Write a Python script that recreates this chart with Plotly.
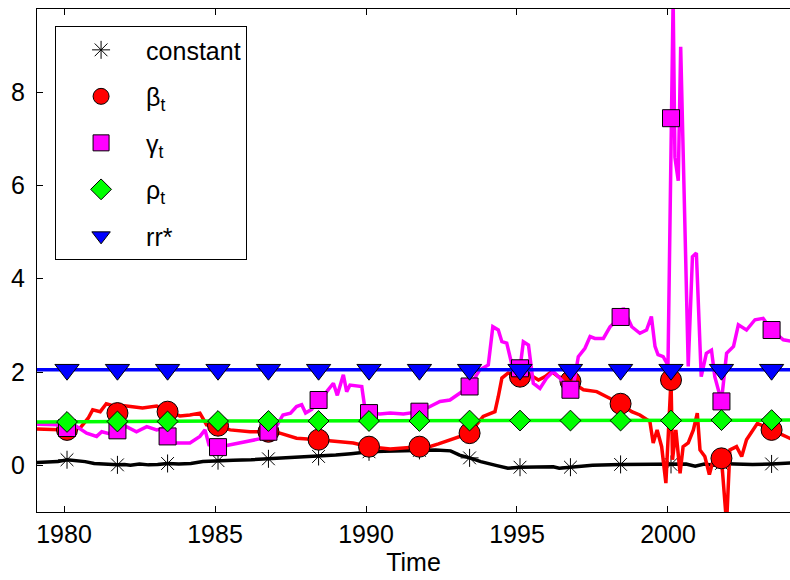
import plotly.graph_objects as go

# ---------------- data ----------------
# marker sample times (every 20 months)
mk_t = [1980.1, 1981.77, 1983.43, 1985.1, 1986.77, 1988.43, 1990.1, 1991.77,
        1993.43, 1995.1, 1996.77, 1998.43, 2000.1, 2001.77, 2003.43]

# constant (black)
const_t = [1979.1, 1979.5, 1979.8, 1980.1, 1980.4, 1980.7, 1981.0, 1981.3, 1981.5, 1981.77,
           1982.0, 1982.2, 1982.5, 1982.8, 1983.1, 1983.43, 1983.8, 1984.2, 1984.6, 1985.1,
           1985.6, 1986.2, 1986.77, 1987.3, 1987.8, 1988.43, 1989.0, 1989.5, 1990.1, 1990.6,
           1991.2, 1991.77, 1992.3, 1992.8, 1993.1, 1993.43, 1993.8, 1994.3, 1994.7, 1995.1,
           1995.6, 1996.2, 1996.4, 1996.77, 1997.1, 1997.5, 1998.43, 1999.3, 2000.1, 2000.6,
           2000.9, 2001.2, 2001.5, 2001.77, 2002.2, 2002.8, 2003.43, 2004.1]
const_v = [0.06, 0.07, 0.08, 0.12, 0.10, 0.08, 0.04, 0.03, 0.01, 0.01,
           0.02, 0.00, 0.03, 0.01, 0.02, 0.04, 0.03, 0.04, 0.08, 0.10,
           0.11, 0.12, 0.14, 0.15, 0.17, 0.19, 0.22, 0.25, 0.29, 0.30,
           0.31, 0.32, 0.33, 0.31, 0.22, 0.16, 0.08, 0.00, -0.06, -0.04,
           -0.03, -0.03, -0.06, -0.04, -0.01, 0.00, 0.02, 0.02, 0.02, 0.03,
           -0.02, 0.03, 0.00, 0.04, 0.03, 0.02, 0.03, 0.05]
const_mk = [0.12, 0.01, 0.04, 0.10, 0.14, 0.19, 0.29, 0.32, 0.16, -0.04, -0.04, 0.02, 0.02, 0.04, 0.03]

# beta_t (red)
beta_t = [1979.1, 1979.5, 1979.8, 1980.1, 1980.53, 1980.8, 1980.95, 1981.2, 1981.4, 1981.6, 1981.77,
          1981.95, 1982.2, 1982.6, 1983.07, 1983.43, 1983.84, 1984.17, 1984.5, 1984.72, 1985.1,
          1985.5, 1986.16, 1986.77, 1987.15, 1987.7, 1988.43, 1989.14, 1989.58, 1990.1, 1990.8,
          1991.77, 1992.1, 1992.4, 1992.8, 1993.1, 1993.43, 1993.88, 1994.27, 1994.38, 1994.5,
          1994.71, 1995.1, 1995.43, 1995.71, 1995.93, 1996.15, 1996.37, 1996.77, 1997.2, 1997.64,
          1997.97, 1998.43, 1998.8, 1999.07, 1999.4, 1999.51, 1999.64, 1999.79, 1999.93, 2000.1,
          2000.15, 2000.26, 2000.4, 2000.5, 2000.67, 2000.84, 2000.97, 2001.06, 2001.22, 2001.37,
          2001.5, 2001.77, 2001.94, 2002.05, 2002.27, 2002.44, 2002.6, 2002.83, 2002.96, 2003.43,
          2004.1]
beta_v = [0.78, 0.77, 0.76, 0.76, 0.80, 1.01, 1.19, 1.15, 1.32, 1.28, 1.12,
          1.28, 1.26, 1.23, 1.27, 1.15, 1.06, 1.08, 1.12, 0.87, 0.85,
          0.76, 0.72, 0.72, 0.69, 0.58, 0.55, 0.51, 0.48, 0.40, 0.35,
          0.40, 0.40, 0.46, 0.55, 0.62, 0.69, 1.05, 1.15, 1.47, 1.87,
          1.98, 1.90, 1.94, 1.83, 1.90, 2.01, 1.90, 1.80, 1.62, 1.58,
          1.47, 1.32, 1.15, 1.08, 0.94, 0.48, 0.76, 0.40, -0.38, 1.83,
          0.12, 0.76, -0.17, 0.40, 0.48, 0.76, 1.12, 0.33, 0.19, -0.20,
          0.12, 0.15, -1.25, 0.33, 0.40, 0.19, 0.55, 0.76, 0.90, 0.76,
          0.56]
beta_mk = [0.76, 1.12, 1.15, 0.85, 0.72, 0.55, 0.40, 0.40, 0.69, 1.90, 1.80, 1.32, 1.83, 0.15, 0.76]

# gamma_t (magenta)
gamma_t = [1979.1, 1979.76, 1980.1, 1980.42, 1980.75, 1981.08, 1981.25, 1981.5, 1981.77, 1982.07,
           1982.4, 1982.74, 1983.07, 1983.3, 1983.43, 1983.6, 1984.17, 1984.5, 1984.67, 1984.8,
           1985.1, 1985.4, 1985.7, 1986.2, 1986.5, 1986.77, 1987.0, 1987.25, 1987.5, 1987.7,
           1987.87, 1988.0, 1988.2, 1988.43, 1988.7, 1988.92, 1989.05, 1989.25, 1989.36, 1989.47,
           1989.86, 1989.97, 1990.1, 1990.46, 1990.8, 1991.24, 1991.77, 1992.12, 1992.45, 1992.78,
           1993.43, 1993.77, 1994.05, 1994.2, 1994.38, 1994.5, 1994.66, 1994.82, 1995.1, 1995.21,
           1995.38, 1995.54, 1995.76, 1995.98, 1996.2, 1996.37, 1996.77, 1996.87, 1997.03, 1997.25,
           1997.42, 1997.58, 1997.86, 1998.08, 1998.43, 1998.52, 1998.8, 1999.07, 1999.29, 1999.45,
           1999.57, 1999.67, 1999.84, 2000.0, 2000.1, 2000.17, 2000.23, 2000.34, 2000.42, 2000.53,
           2000.67, 2000.81, 2000.94, 2001.1, 2001.27, 2001.44, 2001.55, 2001.77, 2001.83, 2001.94,
           2002.17, 2002.33, 2002.6, 2002.88, 2003.15, 2003.43, 2003.82, 2004.1]
gamma_v = [0.88, 0.87, 0.80, 0.83, 0.69, 0.62, 0.72, 0.68, 0.75, 0.83,
           0.72, 0.83, 0.76, 0.80, 0.62, 0.48, 0.48, 0.62, 0.76, 0.44,
           0.39, 0.43, 0.47, 0.52, 0.57, 0.72, 0.80, 1.08, 1.12, 1.26,
           1.30, 1.12, 1.20, 1.40, 1.58, 1.76, 1.50, 1.94, 1.58, 1.72,
           1.69, 1.19, 1.12, 1.10, 1.12, 1.10, 1.15, 1.26, 1.37, 1.40,
           1.69, 2.05, 2.15, 2.97, 2.90, 2.65, 2.62, 2.19, 2.08, 2.65,
           2.58, 1.76, 1.65, 1.87, 2.01, 1.90, 1.62, 1.72, 2.33, 2.51,
           2.76, 2.72, 2.72, 2.97, 3.18, 3.37, 2.97, 2.83, 2.90, 3.19,
           2.55, 2.37, 2.33, 2.15, 7.44, 10.0, 6.60, 6.10, 8.97, 6.00,
           2.12, 4.47, 4.55, 1.90, 2.40, 2.47, 1.90, 1.37, 1.76, 2.40,
           2.55, 3.01, 2.90, 3.12, 3.15, 2.90, 2.69, 2.66]
gamma_mk = [0.80, 0.75, 0.62, 0.39, 0.72, 1.40, 1.12, 1.15, 1.69, 2.08, 1.62, 3.18, 7.44, 1.37, 2.90]

# rho_t (green)
rho_t = [1979.1, 1985.0, 1995.0, 2004.1]
rho_v = [0.93, 0.95, 0.96, 0.97]
rho_mk = [0.93, 0.94, 0.94, 0.95, 0.95, 0.95, 0.95, 0.95, 0.96, 0.96, 0.96, 0.96, 0.96, 0.97, 0.97]

# rr* (blue)
rr_t = [1979.1, 2004.1]
rr_v = [2.05, 2.05]
rr_mk = [2.05] * len(mk_t)

x_ticks = [1980, 1985, 1990, 1995, 2000]
y_ticks = [0, 2, 4, 6, 8]

# ---------------- figure ----------------
FONT = "Liberation Sans, Arial, sans-serif"
fig = go.Figure()

series = [
    ("constant", const_t, const_v, const_mk, "#000000", "asterisk", 15),
    ("β<sub>t</sub>", beta_t, beta_v, beta_mk, "#FF0000", "circle", 21),
    ("γ<sub>t</sub>", gamma_t, gamma_v, gamma_mk, "#FF00FF", "square", 17),
    ("ρ<sub>t</sub>", rho_t, rho_v, rho_mk, "#00FF00", "diamond", 16),
    ("rr*", rr_t, rr_v, rr_mk, "#0000FF", "triangle-down", 21),
]

for i, (name, t, v, mk, col, sym, sz) in enumerate(series):
    fig.add_trace(go.Scatter(x=t, y=v, mode="lines", line=dict(color=col, width=3.5),
                             showlegend=False, hoverinfo="skip", legendgroup=f"g{i}"))
    if sym == "asterisk":
        marker = dict(symbol="asterisk", size=sz, color=col, line=dict(color=col, width=1))
    else:
        marker = dict(symbol=sym, size=sz, color=col, line=dict(color="#000000", width=1))
    fig.add_trace(go.Scatter(x=mk_t, y=mk, mode="markers", marker=marker, name=name,
                             legendgroup=f"g{i}"))

fig.update_layout(
    width=790, height=580,
    margin=dict(l=37, r=0, t=9, b=68),
    paper_bgcolor="white", plot_bgcolor="white",
    font=dict(family=FONT, size=25, color="black"),
    legend=dict(x=0.024, y=0.966, xanchor="left", yanchor="top",
                bordercolor="black", borderwidth=1, bgcolor="white",
                font=dict(size=25), tracegroupgap=11, itemwidth=80),
    xaxis=dict(range=[1979.106, 2004.04], tickvals=x_ticks, ticks="inside", ticklen=6,
               tickcolor="black", showline=True, linecolor="black", linewidth=1, mirror="ticks",
               showgrid=False, zeroline=False, tickfont=dict(size=25), automargin=False,
               title=dict(text="Time", font=dict(size=25), standoff=4)),
    yaxis=dict(range=[-1.0, 9.78], tickvals=y_ticks, ticks="inside", ticklen=6,
               tickcolor="black", showline=True, linecolor="black", linewidth=1, mirror=False,
               showgrid=False, zeroline=False, tickfont=dict(size=25), ticklabelstandoff=6,
               automargin=False),
)

# remove the page's default body margin so the 790x580 figure fills the window exactly
fig.write_html("out.html", config={"displayModeBar": False},
               post_script="document.body.style.margin='0';document.body.style.overflow='hidden';")
